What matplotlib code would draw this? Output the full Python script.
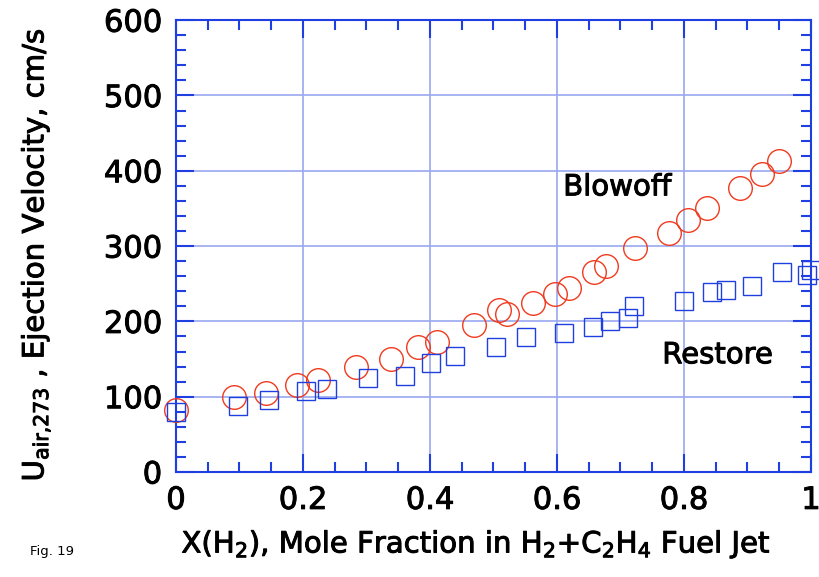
import matplotlib
matplotlib.use('Agg')
import matplotlib.pyplot as plt
import matplotlib.patheffects as pe
from matplotlib.ticker import MultipleLocator

# Blowoff (circles)
blow_x = [0.0, 0.092, 0.141, 0.191, 0.224, 0.283, 0.338, 0.381, 0.411, 0.470,
          0.508, 0.521, 0.562, 0.597, 0.619, 0.659, 0.677, 0.723, 0.777, 0.806,
          0.837, 0.888, 0.923, 0.949]
blow_y = [82, 99, 105, 116, 122, 139, 150, 166, 173, 195,
          215, 210, 225, 236, 245, 265, 274, 297, 318, 334,
          350, 377, 396, 413]

# Restore (squares)
rest_x = [0.0, 0.097, 0.146, 0.204, 0.238, 0.302, 0.360, 0.401, 0.439, 0.504,
          0.552, 0.611, 0.657, 0.683, 0.712, 0.722, 0.800, 0.844, 0.866, 0.907,
          0.955, 0.993, 1.0]
rest_y = [80, 87, 95, 108, 110, 125, 128, 145, 154, 166,
          179, 184, 192, 200, 204, 221, 227, 239, 242, 247,
          265, 262, 268]

blue = '#1f3fe0'
grid_blue = '#9aa8f0'
red = '#f03a1e'

plt.rcParams['font.family'] = ['DejaVu Sans']
thick = [pe.withStroke(linewidth=0.7, foreground='black')]

fig = plt.figure(figsize=(8.2, 5.77), dpi=100)
ax = fig.add_axes([0.2146, 0.182, 0.7744, 0.783])

ax.plot(blow_x, blow_y, linestyle='none', marker='o', markersize=17,
        markerfacecolor='none', markeredgecolor=red, markeredgewidth=1.0,
        zorder=3, clip_on=False)
ax.plot(rest_x, rest_y, linestyle='none', marker='s', markersize=13.5,
        markerfacecolor='none', markeredgecolor=blue, markeredgewidth=1.0,
        zorder=3, clip_on=False)

ax.set_xlim(0, 1)
ax.set_ylim(0, 600)
ax.xaxis.set_major_locator(MultipleLocator(0.2))
ax.xaxis.set_minor_locator(MultipleLocator(0.05))
ax.yaxis.set_major_locator(MultipleLocator(100))
ax.yaxis.set_minor_locator(MultipleLocator(20))
ax.set_xticks([0, 0.2, 0.4, 0.6, 0.8, 1.0])
ax.set_xticklabels(['0', '0.2', '0.4', '0.6', '0.8', '1'])

ax.grid(True, which='major', color=grid_blue, linewidth=1.2)
ax.set_axisbelow(True)

for s in ax.spines.values():
    s.set_color(blue)
    s.set_linewidth(1.5)

ax.tick_params(which='both', direction='in', top=True, right=True, color=blue,
               labelsize=22, width=1.5)
ax.tick_params(which='major', length=13, pad=10)
ax.tick_params(which='minor', length=7)
for lab in ax.get_xticklabels() + ax.get_yticklabels():
    lab.set_path_effects(thick)

ax.set_xlabel(r'X(H$_\mathregular{2}$), Mole Fraction in H$_\mathregular{2}$+C$_\mathregular{2}$H$_\mathregular{4}$ Fuel Jet',
              fontsize=21, path_effects=thick)
ax.xaxis.set_label_coords(0.472, -0.125)
ax.set_ylabel(r'U$_\mathregular{air{,}273}$ , Ejection Velocity, cm/s', fontsize=21,
              path_effects=thick)
ax.yaxis.set_label_coords(-0.195, 0.48)

ax.text(0.695, 378, 'Blowoff', fontsize=21, ha='center', va='center', path_effects=thick)
ax.text(0.853, 155, 'Restore', fontsize=21, ha='center', va='center', path_effects=thick)

fig.text(0.063, 0.045, 'Fig. 19', fontsize=9.5, ha='center', va='center')

fig.savefig('out.png', dpi=100)
